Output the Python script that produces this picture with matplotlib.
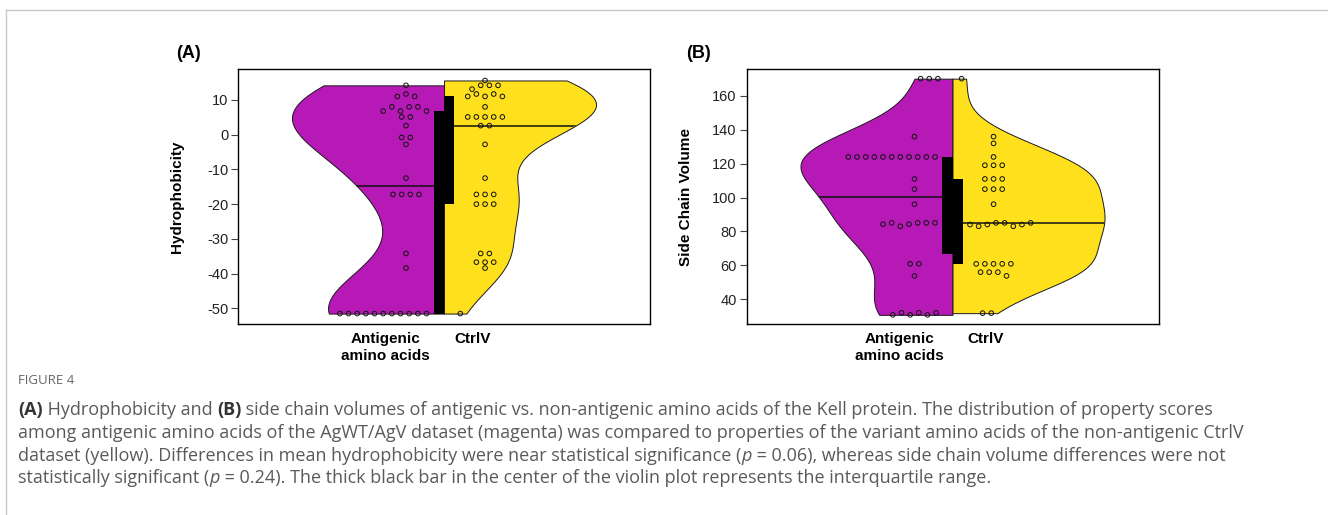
import numpy as np
import matplotlib.pyplot as plt
from matplotlib import cbook
from matplotlib.lines import Line2D

plt.rcParams['font.family'] = ['Liberation Sans', 'DejaVu Sans']
plt.rcParams['axes.unicode_minus'] = False

# values (within a row of dots: left to right)
hydro_ag = [14.2, 11.0, 11.7, 11.0, 6.8, 8.0, 6.8, 8.0, 8.0, 6.8, 5.1, 5.1, 2.6,
            -0.8, -0.8, -2.8, -12.5, -17.2, -17.2, -17.2, -17.2, -34.2, -38.4] + [-51.5] * 11
hydro_ctrl = [15.6, 13.1, 14.2, 14.2, 14.2, 11.0, 11.7, 11.0, 11.7, 11.0, 8.0,
              5.1, 5.1, 5.1, 5.1, 5.1, 2.6, 2.6, -2.8, -12.5, -17.2, -17.2, -17.2,
              -20.0, -20.0, -20.0, -34.2, -34.2, -36.7, -36.7, -36.7, -38.4, -51.5]
vol_ag = [170.2, 170.2, 170.2, 136, 124, 124, 124, 124, 124, 124, 124, 124, 124, 124, 124,
          111, 105, 96.1, 84.3, 85.1, 83.1, 84.3, 85.1, 85.1, 85.1, 60.9, 60.9, 53.8,
          30.8, 32, 30.8, 32, 30.8, 32]
vol_ctrl = [170.2, 136, 132, 124, 119.1, 119.1, 119.1, 111, 111, 111, 105, 105, 105, 96.1,
            84.1, 83.1, 84.1, 85.1, 85.1, 83.1, 84.1, 85.1, 60.9, 60.9, 60.9, 60.9, 60.9,
            56, 56, 56, 53.8, 31.8, 31.8]

group_labels = ['Antigenic\namino acids', 'CtrlV']
MAGENTA = '#B619B6'
YELLOW = '#FEE01C'

SPACING = 0.057   # dot spacing in a row (axes x units)
IQR_W = 0.066


def nrd0(x):
    x = np.asarray(x, float)
    iqr = np.subtract(*np.percentile(x, [75, 25]))
    return 0.9 * min(x.std(ddof=1), iqr / 1.34) * len(x) ** -0.2


def kde(x, coords):
    x = np.asarray(x, float)
    bw = nrd0(x)
    z = (coords[:, None] - x[None, :]) / bw
    return np.exp(-0.5 * z ** 2).sum(1) / (len(x) * bw * np.sqrt(2 * np.pi))


def dot_x(values, st, side, anchor, q1, q3, tol):
    v = np.asarray(values, float)
    dens = np.asarray(st['vals']) / np.max(st['vals'])
    order = np.argsort(v, kind='stable')
    groups, cur = [], [order[0]]
    for a, b in zip(order[:-1], order[1:]):
        if v[b] - v[a] < tol:
            cur.append(b)
        else:
            groups.append(cur)
            cur = [b]
    groups.append(cur)
    xs = np.zeros(len(v))
    for g in groups:
        g = sorted(g)
        n = len(g)
        half = (n - 1) / 2 * SPACING
        offs = (np.arange(n) - (n - 1) / 2) * SPACING
        hw = np.interp(v[g], st['coords'], dens).min()
        lo = 0.115 if np.any((v[g] >= q1) & (v[g] <= q3)) else 0.06
        c = min(anchor, hw - 0.04 - half)
        c = max(c, lo + half)
        xs[g] = side * c + offs
    return xs


def split_violin(ax, left, right, ylim, ylabel, xt):
    ax.set_xlim(-1.355, 1.355)
    ax.set_ylim(*ylim)
    tol = 4.5 * (ylim[1] - ylim[0]) / 255
    for vals, side, col, anchor in [(left, -1, MAGENTA, 0.25), (right, 1, YELLOW, 0.27)]:
        st = cbook.violin_stats([vals], kde, points=300)
        parts = ax.violin(st, positions=[0], widths=[2], showextrema=False,
                          side='low' if side < 0 else 'high')
        body = parts['bodies'][0]
        body.set_facecolor(col)
        body.set_edgecolor('#1a1a1a')
        body.set_linewidth(0.7)
        body.set_alpha(1)
        body.set_zorder(1)
        q1, med, q3 = np.percentile(vals, [25, 50, 75])
        ln, = ax.plot([0, side * 1.1], [med, med], color='#111', lw=1.1, zorder=2)
        ln.set_clip_path(body.get_paths()[0], body.get_transform())
        xs = dot_x(vals, st[0], side, anchor, q1, q3, tol)
        ax.scatter(xs, vals, s=11, facecolors='none', edgecolors='#111',
                   linewidths=0.7, zorder=3)
        ax.bar(side * IQR_W / 2, q3 - q1, bottom=q1, width=IQR_W, color='black',
               zorder=4)
    ax.set_xticks(xt, group_labels, fontweight='bold', fontsize=11)
    ax.tick_params(axis='x', length=0, pad=6)
    ax.tick_params(axis='y', labelsize=10.5, length=5, width=0.8, color='#444',
                   labelcolor='#222', pad=2)
    for s in ax.spines.values():
        s.set_linewidth(1.0)
    ax.set_ylabel(ylabel, fontweight='bold', fontsize=11)
    ax.yaxis.set_label_coords(-0.13, 0.5)


fig = plt.figure(figsize=(13.28, 5.15), dpi=100)
W, H = 1328, 515

axA = fig.add_axes([238 / W, 1 - 324 / H, 412 / W, 255 / H])
split_violin(axA, hydro_ag, hydro_ctrl, (-54.5, 18.9), 'Hydrophobicity', [-0.388, 0.19])
axA.set_yticks(np.arange(-50, 11, 10))

axB = fig.add_axes([746.5 / W, 1 - 324 / H, 412 / W, 255 / H])
split_violin(axB, vol_ag, vol_ctrl, (25.4, 175.9), 'Side Chain Volume', [-0.347, 0.219])
axB.set_yticks(np.arange(40, 161, 20))

fig.text(176 / W, 1 - 54 / H, '(A)', fontsize=13, fontweight='bold', va='center')
fig.text(686 / W, 1 - 54 / H, '(B)', fontsize=13, fontweight='bold', va='center')

# frame of the figure card
fig.add_artist(Line2D([6 / W, 1], [1 - 10 / H] * 2, color='#c8c8c8', lw=1.0))
fig.add_artist(Line2D([6 / W, 6 / W], [0, 1 - 10 / H], color='#c8c8c8', lw=1.0))

# caption
CAP = ['Open Sans', 'DejaVu Sans']
GREY = '#5a5a5a'
fig.text(18 / W, 1 - 384 / H, 'FIGURE 4', family=CAP, fontsize=9.5, color='#666666')

renderer = fig.canvas.get_renderer()


def width_px(txt, **kw):
    a = fig.text(0, 0, txt + '|', **kw)
    b = fig.text(0, 0, '|', **kw)
    w = a.get_window_extent(renderer).width - b.get_window_extent(renderer).width
    a.remove()
    b.remove()
    return w


caption = [
    [('(A)', 'bold', 'normal'), (' Hydrophobicity and ', 'normal', 'normal'), ('(B)', 'bold', 'normal'),
     (' side chain volumes of antigenic vs. non-antigenic amino acids of the Kell protein. '
      'The distribution of property scores', 'normal', 'normal')],
    [('among antigenic amino acids of the AgWT/AgV dataset (magenta) was compared to properties '
      'of the variant amino acids of the non-antigenic CtrlV', 'normal', 'normal')],
    [('dataset (yellow). Differences in mean hydrophobicity were near statistical significance (',
      'normal', 'normal'), ('p', 'normal', 'italic'),
     (' = 0.06), whereas side chain volume differences were not', 'normal', 'normal')],
    [('statistically significant (', 'normal', 'normal'), ('p', 'normal', 'italic'),
     (' = 0.24). The thick black bar in the center of the violin plot represents the interquartile range.',
      'normal', 'normal')],
]
baselines = [415, 438, 461, 483]
for parts, yb in zip(caption, baselines):
    x = 18.0
    for txt, wt, st in parts:
        kw = dict(family=CAP, fontsize=13, fontweight=wt, fontstyle=st,
                  color='#333333' if wt == 'bold' else GREY)
        fig.text(x / W, 1 - yb / H, txt, va='baseline', **kw)
        x += width_px(txt, **kw)

fig.savefig('out.png', dpi=100)
